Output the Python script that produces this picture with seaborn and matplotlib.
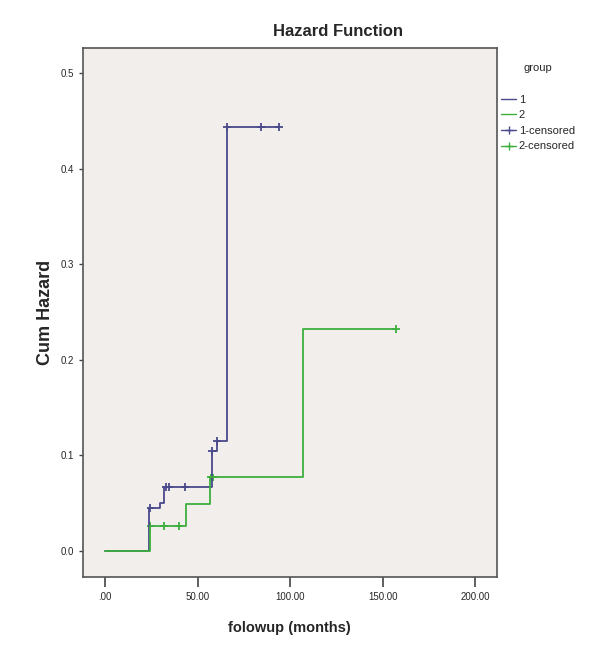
import numpy as np
import pandas as pd
import matplotlib
matplotlib.use('Agg')
import matplotlib.pyplot as plt
from matplotlib.lines import Line2D
import seaborn as sns

# step data
g1_time = [0, 23.7, 29.7, 32.0, 57.7, 60.4, 65.8, 94.0]
g1_haz = [0.0, 0.045, 0.050, 0.067, 0.105, 0.115, 0.443, 0.443]
g2_time = [0, 24.3, 43.7, 56.6, 106.8, 157.0]
g2_haz = [0.0, 0.026, 0.049, 0.077, 0.232, 0.232]

# censored marks
c1_time = [24.5, 33.0, 34.5, 43.0, 57.7, 60.4, 66.0, 84.0, 94.0]
c1_haz = [0.045, 0.067, 0.067, 0.067, 0.105, 0.115, 0.443, 0.443, 0.443]
c2_time = [24.5, 32.0, 40.0, 57.0, 58.5, 157.0]
c2_haz = [0.026, 0.026, 0.026, 0.077, 0.077, 0.232]

x_ticks = [0, 50, 100, 150, 200]
x_labels = ['.00', '50.00', '100.00', '150.00', '200.00']
y_ticks = [0.0, 0.1, 0.2, 0.3, 0.4, 0.5]
y_labels = ['0.0', '0.1', '0.2', '0.3', '0.4', '0.5']

blue = '#4a4a8c'
green = '#3dae3d'

sns.set_style('ticks')
plt.rcParams['font.family'] = ['Liberation Sans', 'DejaVu Sans']

steps = pd.concat([
    pd.DataFrame({'time': g1_time, 'haz': g1_haz, 'group': '1'}),
    pd.DataFrame({'time': g2_time, 'haz': g2_haz, 'group': '2'}),
])
cens = pd.concat([
    pd.DataFrame({'time': c1_time, 'haz': c1_haz, 'group': '1'}),
    pd.DataFrame({'time': c2_time, 'haz': c2_haz, 'group': '2'}),
])
pal = {'1': blue, '2': green}

fig = plt.figure(figsize=(6.05, 6.49), dpi=100)
ax = fig.add_axes([0.137, 0.111, 0.684, 0.815])
ax.set_facecolor('#f1eeeb')

sns.lineplot(data=steps, x='time', y='haz', hue='group', palette=pal,
             drawstyle='steps-post', linewidth=1.3, estimator=None,
             sort=False, legend=False, ax=ax)
sns.scatterplot(data=cens, x='time', y='haz', hue='group', palette=pal,
                marker='+', s=32, linewidth=1.3, legend=False, ax=ax)

ax.set_xlim(-12, 211.5)
ax.set_ylim(-0.027, 0.526)
ax.set_xticks(x_ticks)
ax.set_xticklabels(x_labels, fontsize=7)
ax.set_yticks(y_ticks)
ax.set_yticklabels(y_labels, fontsize=7)
ax.tick_params(axis='x', length=7, width=1.2, color='#444444')
ax.tick_params(axis='y', length=3, width=1.0, color='#444444')
for sp in ax.spines.values():
    sp.set_color('#555555')
    sp.set_linewidth(1.2)

ax.set_xlabel('folowup (months)', fontsize=10.5, fontweight='bold', labelpad=14)
ax.set_ylabel('Cum Hazard', fontsize=13, fontweight='bold', labelpad=5)
fig.text(0.559, 0.951, 'Hazard Function', fontsize=12, fontweight='bold',
         ha='center', va='center')

# legend outside on the right, title placed on its own
fig.text(0.889, 0.895, 'group', fontsize=8, ha='center', va='center')
handles = [
    Line2D([0], [0], color=blue, lw=1.0, drawstyle='steps-post'),
    Line2D([0], [0], color=green, lw=1.0, drawstyle='steps-post'),
    Line2D([0], [0], color=blue, lw=1.0, marker='+', markersize=6),
    Line2D([0], [0], color=green, lw=1.0, marker='+', markersize=6),
]
leg = fig.legend(handles, ['1', '2', '1-censored', '2-censored'],
                 loc='upper left', bbox_to_anchor=(0.815, 0.866),
                 frameon=False, fontsize=8, borderpad=0.2,
                 handlelength=1.4, handletextpad=0.2, labelspacing=0.5)

fig.savefig('out.png', dpi=100, facecolor='white')
